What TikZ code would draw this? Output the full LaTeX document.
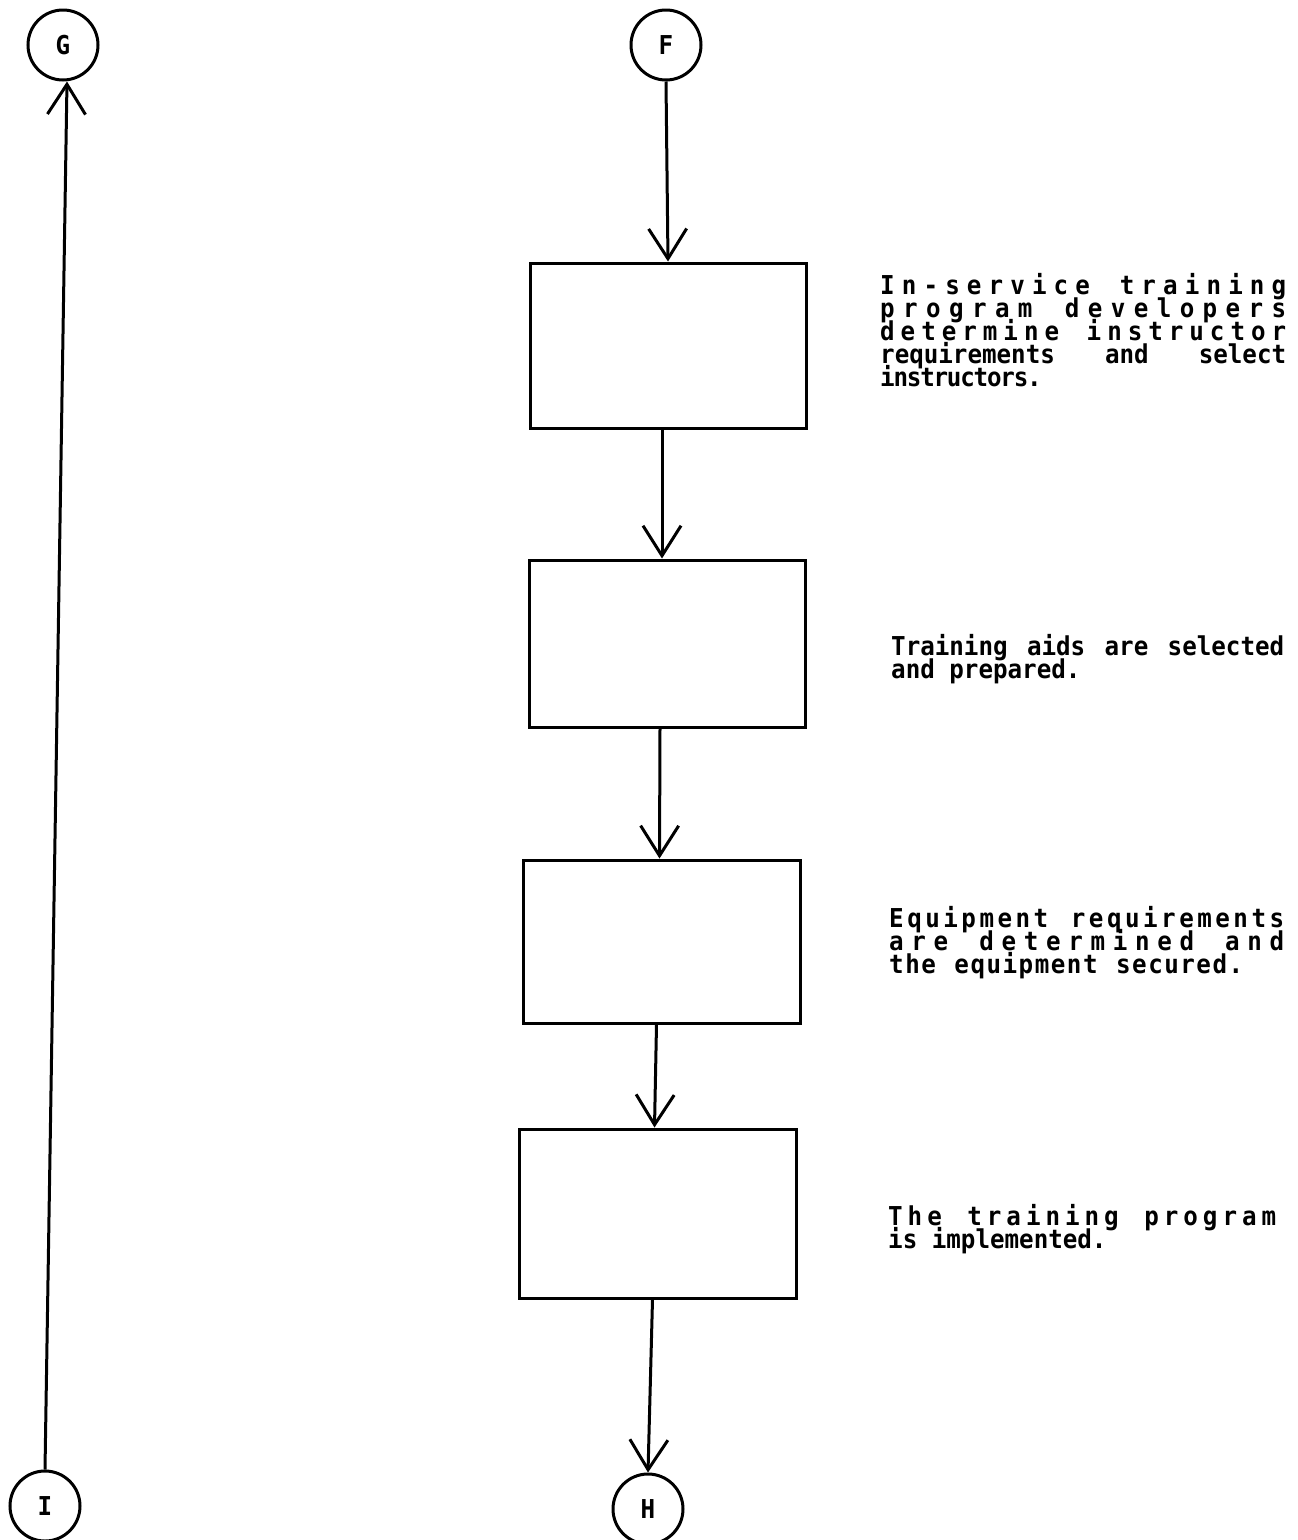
\documentclass[tikz,border=0pt]{standalone}
\usepackage{fontspec}
\usetikzlibrary{arrows.meta}
\newfontfamily\typefont{DejaVu Sans Mono}[FakeStretch=0.93]

% spaced line: glue \spcglue between every character, "|" marks a word gap
\newskip\spcglue
\spcglue=0pt plus 1fil
\def\spc#1{\spcitem#1\spcnext}
\def\spcitem#1{\ifx#1|\hskip0.6em\relax\else#1\fi}
\def\spcnext#1{\ifx#1\relax\else\hskip\spcglue\relax\spcitem#1\expandafter\spcnext\fi}

\newcommand\notefont{\typefont\bfseries\fontsize{26}{23}\selectfont\lineskiplimit=-100pt\relax}

\tikzset{
  box/.style={draw, rectangle, line width=3pt, inner sep=0pt},
  joint/.style={draw, circle, line width=3pt, minimum size=70pt, inner sep=0pt,
    font=\typefont\bfseries\fontsize{26}{24}\selectfont},
  flow/.style={line width=3pt, -{Straight Barb[length=30pt,width=38pt]}},
  note/.style={anchor=base west, inner sep=0pt}
}

\begin{document}
\begin{tikzpicture}[x=1pt,y=-1pt]
\useasboundingbox (0,0) rectangle (1298,1540);

% off-page connectors
\node[joint] (G) at (63,45) {G};
\node[joint] (F) at (666,45) {F};
\node[joint] (I) at (45,1506) {I};
\node[joint] (H) at (648,1509) {H};

% process boxes
\node[box, minimum width=276pt, minimum height=165pt] (b1) at (668,345.5) {};
\node[box, minimum width=276pt, minimum height=167pt] (b2) at (667,643.5) {};
\node[box, minimum width=277pt, minimum height=163pt] (b3) at (661.5,941.5) {};
\node[box, minimum width=277pt, minimum height=169pt] (b4) at (657.5,1213.5) {};

% flow
\draw[flow] (F.south) -- (b1.north);
\draw[flow] ([xshift=-6pt]b1.south) -- ([xshift=-5pt]b2.north);
\draw[flow] ([xshift=-7pt]b2.south) -- ([xshift=-2pt]b3.north);
\draw[flow] ([xshift=-5pt]b3.south) -- ([xshift=-3pt]b4.north);
\draw[flow] ([xshift=-5pt]b4.south) -- (H.north);
\draw[flow] (I.north) -- ([xshift=4pt]G.south);

% descriptions
\node[note] (t1) at (880,294) {\parbox[t]{406pt}{\notefont
  \hbox to 406pt{\spc In-service|training\relax}
  \hbox to 406pt{\spc program|developers\relax}
  \hbox to 406pt{\spc determine|instructor\relax}
  \hbox to 406pt{requirements\hfill and\hfill select}
  \hbox{\spcglue=-1.2pt\spc instructors.\relax}}};

\node[note] (t2) at (891,655) {\parbox[t]{393pt}{\notefont
  \hbox to 393pt{Training\hfill\ aids\hfill\ are\hfill\ selected}
  \hbox{and prepared.}}};

\node[note] (t3) at (889,927) {\parbox[t]{395pt}{\notefont
  \hbox to 395pt{\spc Equipment|requirements\relax}
  \hbox to 395pt{\spc are|determined|and\relax}
  \hbox to 354pt{\spc the|equipment|secured.\relax}}};

\node[note] (t4) at (888,1225) {\parbox[t]{388pt}{\notefont
  \hbox to 388pt{\spc The|training|program\relax}
  \hbox{is implemented.}}};
\end{tikzpicture}
\end{document}
